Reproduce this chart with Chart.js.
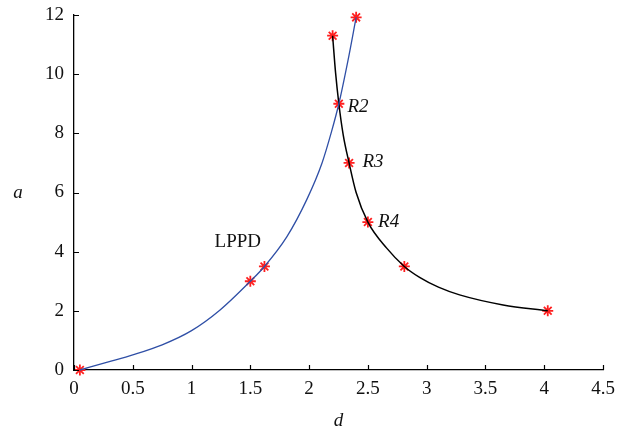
<!DOCTYPE html>
<html>
<head>
<meta charset="utf-8">
<script src="https://cdn.jsdelivr.net/npm/chart.js@4/dist/chart.umd.min.js"></script>
<style>
  html, body { margin: 0; padding: 0; background: #fff; }
  #wrap { width: 618px; height: 431px; position: relative; }
</style>
</head>
<body>
<div id="wrap"><canvas id="c"></canvas></div>
<script>
// LPPD curve (blue): a as a function of d
const lppdD = [0.05, 0.3, 0.5, 0.75, 1.0, 1.24, 1.5, 1.62, 1.81, 1.98, 2.11, 2.19, 2.253, 2.33, 2.4];
const lppdA = [0, 0.28, 0.51, 0.85, 1.33, 2.02, 3.0, 3.5, 4.5, 5.76, 7.0, 8.05, 9.0, 10.45, 11.92];

// Second curve (black)
const curveD = [2.2, 2.225, 2.253, 2.29, 2.34, 2.4, 2.5, 2.66, 2.81, 2.94, 3.1, 3.28, 3.65, 4.03];
const curveA = [11.3, 10.05, 9.0, 7.95, 7.0, 6.0, 5.0, 4.12, 3.5, 3.13, 2.8, 2.54, 2.2, 2.0];

// Marked points (red asterisks)
const markD = [0.05, 1.5, 1.62, 2.4, 2.2, 2.253, 2.34, 2.5, 2.81, 4.03];
const markA = [0, 3.0, 3.5, 11.92, 11.3, 9.0, 7.0, 5.0, 3.5, 2.0];

// Text labels anchored in data space
const labelText = ['R2', 'R3', 'R4', 'LPPD'];
const labelD = [2.326, 2.454, 2.587, 1.196];
const labelA = [8.9, 7.02, 5.01, 4.34];
const labelItalic = [true, true, true, false];

// Axis ranges and tick steps
const xRange = [0, 4.5], xStep = 0.5;
const yRange = [0, 12], yStep = 2;

const FONT = '"Liberation Serif", "Times New Roman", serif';

const toPts = (xs, ys) => xs.map((x, i) => ({ x: x, y: ys[i] }));
const fmt = v => String(Math.round(v * 10) / 10);

const decor = {
  id: 'decor',
  afterDraw(chart) {
    const { ctx, scales: { x, y } } = chart;
    ctx.save();
    // inward tick marks
    ctx.strokeStyle = '#000';
    ctx.lineWidth = 1.2;
    ctx.beginPath();
    x.ticks.forEach(t => {
      const px = Math.round(x.getPixelForValue(t.value)) + 0.5;
      ctx.moveTo(px, y.bottom);
      ctx.lineTo(px, y.bottom - 5);
    });
    y.ticks.forEach(t => {
      const py = Math.round(y.getPixelForValue(t.value)) + 0.5;
      ctx.moveTo(x.left, py);
      ctx.lineTo(x.left + 5, py);
    });
    ctx.stroke();

    // point labels
    ctx.fillStyle = '#111';
    ctx.textBaseline = 'middle';
    ctx.textAlign = 'left';
    labelText.forEach((s, i) => {
      ctx.font = (labelItalic[i] ? 'italic ' : '') + '19px ' + FONT;
      ctx.fillText(s, x.getPixelForValue(labelD[i]), y.getPixelForValue(labelA[i]));
    });

    // axis titles
    ctx.font = 'italic 19px ' + FONT;
    ctx.textAlign = 'center';
    ctx.fillText('a', 18, (y.top + y.bottom) / 2);
    ctx.fillText('d', (x.left + x.right) / 2, 421);
    ctx.restore();
  }
};

new Chart(document.getElementById('c'), {
  type: 'line',
  data: {
    datasets: [
      {
        data: toPts(lppdD, lppdA),
        borderColor: '#2f4fa6',
        borderWidth: 1.3,
        pointRadius: 0,
        cubicInterpolationMode: 'monotone',
        fill: false,
        clip: false
      },
      {
        data: toPts(curveD, curveA),
        borderColor: '#000',
        borderWidth: 1.5,
        pointRadius: 0,
        cubicInterpolationMode: 'monotone',
        fill: false,
        clip: false
      },
      {
        data: toPts(markD, markA),
        showLine: false,
        pointStyle: 'star',
        pointRadius: 5.5,
        borderColor: '#ff1f1f',
        backgroundColor: '#ff1f1f',
        pointBorderWidth: 1.8,
        clip: false
      }
    ]
  },
  options: {
    responsive: true,
    maintainAspectRatio: false,
    animation: false,
    events: [],
    layout: { padding: { top: 15, right: 15, left: 0, bottom: 0 } },
    plugins: { legend: { display: false }, tooltip: { enabled: false } },
    scales: {
      x: {
        type: 'linear',
        min: xRange[0], max: xRange[1],
        grid: { display: false, drawTicks: false },
        border: { display: true, color: '#000', width: 1.3 },
        ticks: { stepSize: xStep, padding: 8, color: '#111', font: { family: FONT, size: 19 }, maxRotation: 0, callback: fmt },
        afterFit: s => { s.height = 61; s.paddingLeft = 0; s.paddingRight = 0; }
      },
      y: {
        type: 'linear',
        min: yRange[0], max: yRange[1],
        grid: { display: false, drawTicks: false },
        border: { display: true, color: '#000', width: 1.3 },
        ticks: { stepSize: yStep, padding: 10, color: '#111', font: { family: FONT, size: 19 }, callback: fmt },
        afterFit: s => { s.width = 74; s.paddingTop = 0; s.paddingBottom = 0; }
      }
    }
  },
  plugins: [decor]
});
</script>
</body>
</html>
